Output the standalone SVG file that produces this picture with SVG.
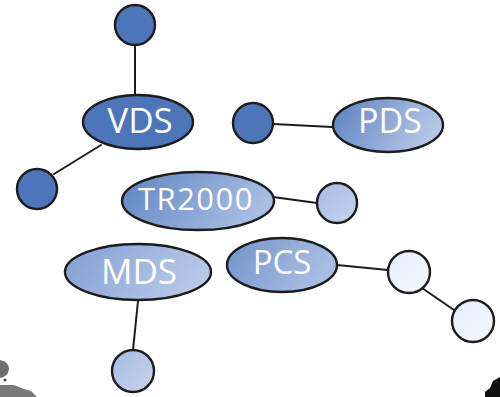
<svg xmlns="http://www.w3.org/2000/svg" width="500" height="397" viewBox="0 0 500 397">
  <defs>
    <linearGradient id="gPds" x1="0" y1="0" x2="1" y2="0.3">
      <stop offset="0" stop-color="#5a80c0"/>
      <stop offset="1" stop-color="#b4c6e6"/>
    </linearGradient>
    <linearGradient id="gTr" x1="0" y1="0" x2="1" y2="0.3">
      <stop offset="0" stop-color="#5f84c3"/>
      <stop offset="1" stop-color="#a7bde2"/>
    </linearGradient>
    <linearGradient id="gMds" x1="0" y1="0" x2="1" y2="0.3">
      <stop offset="0" stop-color="#819ed2"/>
      <stop offset="1" stop-color="#b6c8e8"/>
    </linearGradient>
    <linearGradient id="gPcs" x1="0" y1="0" x2="1" y2="0.3">
      <stop offset="0" stop-color="#7393cc"/>
      <stop offset="1" stop-color="#a9bee3"/>
    </linearGradient>
    <linearGradient id="gLight" x1="0" y1="0" x2="1" y2="1">
      <stop offset="0" stop-color="#a4bbe2"/>
      <stop offset="1" stop-color="#c7d5ee"/>
    </linearGradient>
    <linearGradient id="gPale" x1="0" y1="0" x2="1" y2="1">
      <stop offset="0" stop-color="#e6ecf8"/>
      <stop offset="1" stop-color="#f6f8fd"/>
    </linearGradient>
  </defs>
  <style>
    .shape { stroke: #1c1c1c; stroke-width: 2.4; }
    .dark { fill: #4d75ba; }
    .edge { stroke: #1c1c1c; stroke-width: 2; fill: none; stroke-linecap: round; }
    .label { font-family: "Open Sans", "Noto Sans", "Liberation Sans", sans-serif; fill: #ffffff; text-anchor: middle; }
  </style>

  <rect width="500" height="397" fill="#ffffff"/>

  <!-- connectors -->
  <g id="connectors">
    <line class="edge" x1="135" y1="45" x2="135" y2="95"/>
    <line class="edge" x1="54" y1="174" x2="101" y2="145"/>
    <line class="edge" x1="273" y1="124" x2="332" y2="127"/>
    <line class="edge" x1="273" y1="197" x2="317" y2="203"/>
    <line class="edge" x1="138" y1="301" x2="133" y2="350"/>
    <line class="edge" x1="337" y1="265" x2="388" y2="270"/>
    <line class="edge" x1="422" y1="288" x2="454" y2="310"/>
  </g>

  <!-- nodes -->
  <g id="vds-top">
    <circle class="shape dark" cx="135" cy="25" r="20"/>
  </g>
  <g id="vds">
    <ellipse class="shape dark" cx="138" cy="122" rx="55" ry="27"/>
    <text class="label" x="140" y="133" font-size="35">VDS</text>
  </g>
  <g id="vds-left">
    <circle class="shape dark" cx="37" cy="189" r="20"/>
  </g>
  <g id="pds-left">
    <circle class="shape dark" cx="253" cy="123" r="20"/>
  </g>
  <g id="pds">
    <ellipse class="shape" fill="url(#gPds)" cx="388" cy="125" rx="55" ry="27"/>
    <text class="label" x="390" y="133" font-size="34">PDS</text>
  </g>
  <g id="tr2000">
    <ellipse class="shape" fill="url(#gTr)" cx="198" cy="201" rx="76" ry="29"/>
    <text class="label" x="196" y="210" font-size="31" letter-spacing="1.5">TR2000</text>
  </g>
  <g id="tr2000-right">
    <circle class="shape" fill="url(#gLight)" cx="337" cy="203" r="20"/>
  </g>
  <g id="mds">
    <ellipse class="shape" fill="url(#gMds)" cx="138" cy="272" rx="73" ry="28"/>
    <text class="label" x="139" y="284" font-size="35">MDS</text>
  </g>
  <g id="mds-bottom">
    <circle class="shape" fill="url(#gLight)" cx="133" cy="371" r="21"/>
  </g>
  <g id="pcs">
    <ellipse class="shape" fill="url(#gPcs)" cx="282" cy="265" rx="55" ry="27"/>
    <text class="label" x="282" y="274" font-size="33">PCS</text>
  </g>
  <g id="pcs-right">
    <circle class="shape" fill="url(#gPale)" cx="409" cy="272" r="21"/>
  </g>
  <g id="pcs-far">
    <circle class="shape" fill="url(#gPale)" cx="473" cy="321" r="21"/>
  </g>

  <!-- cropped edge shapes -->
  <path d="M0 360 Q9 362 9 369 Q8 377 0 378 Z" fill="#6e6e6e"/>
  <circle cx="5" cy="380" r="1.5" fill="#444"/>
  <path d="M0 385 L14 385 L24 389 L31 391 L37 397 L0 397 Z" fill="#7a7a7a"/>
  <path d="M500 377 L493 381 L490 388 L485 392 L485 397 L500 397 Z" fill="#111111"/>
</svg>
